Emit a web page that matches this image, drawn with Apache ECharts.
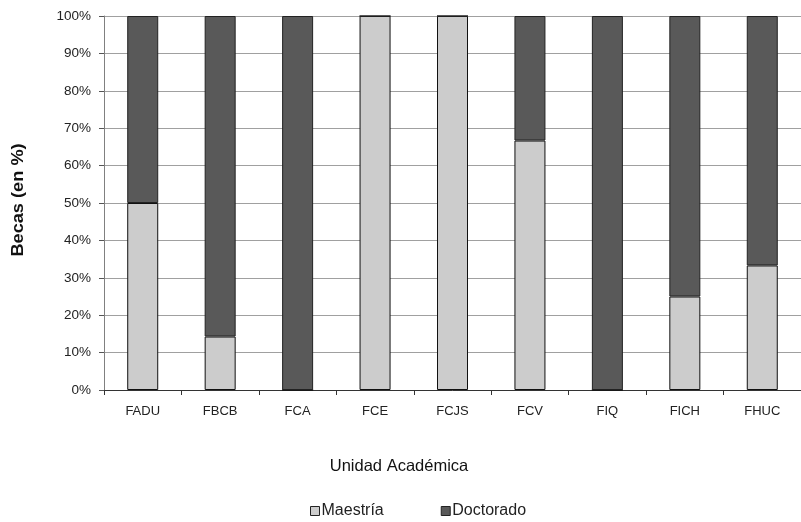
<!DOCTYPE html>
<html><head><meta charset="utf-8">
<script src="https://cdn.jsdelivr.net/npm/echarts@6/dist/echarts.min.js"></script>
<style>html,body{margin:0;padding:0;background:#fff}#c{width:801px;height:522px}</style>
</head><body><div id="c"></div>
<script>
const categories = ['FADU','FBCB','FCA','FCE','FCJS','FCV','FIQ','FICH','FHUC'];
const maestria = [50, 14.3, 0, 100, 100, 66.7, 0, 25, 33.3];
const doctorado = [50, 85.7, 100, 0, 0, 33.3, 100, 75, 66.7];
const yTicks = [0,10,20,30,40,50,60,70,80,90,100];
const font = 'Liberation Sans, Arial, sans-serif';
const chart = echarts.init(document.getElementById('c'));
chart.setOption({
  animation: false,
  backgroundColor: '#fff',
  textStyle: {fontFamily: font},
  grid: {left: 104, right: -9, top: 16, bottom: 132, containLabel: false},
  legend: {
    bottom: -2, left: 305, itemGap: 57, itemWidth: 9, itemHeight: 9,
    icon: 'rect',
    textStyle: {fontFamily: font, fontSize: 16, color: '#222', padding: [0,0,0,-3]},
    data: [
      {name: 'Maestría', itemStyle: {color: '#CCCCCC', borderColor: '#222', borderWidth: 1}},
      {name: 'Doctorado', itemStyle: {color: '#595959', borderColor: '#222', borderWidth: 1}}
    ]
  },
  graphic: [
    {type: 'text', x: 399, y: 466, style: {text: 'Unidad Académica', font: '16.5px ' + font, fill: '#111', textAlign: 'center', textVerticalAlign: 'middle'}},
    {type: 'text', rotation: Math.PI/2, x: 18, y: 200, scaleX: 1.07, style: {text: 'Becas (en %)', font: 'bold 17px ' + font, fill: '#111', textAlign: 'center', textVerticalAlign: 'middle'}}
  ],
  xAxis: {
    type: 'category', data: categories,
    axisLine: {lineStyle: {color: '#333'}},
    axisTick: {show: true, length: 5, lineStyle: {color: '#333'}},
    axisLabel: {fontFamily: font, fontSize: 13, color: '#222', margin: 15}
  },
  yAxis: {
    type: 'value', min: 0, max: 100, interval: 10,
    axisLine: {show: true, lineStyle: {color: '#808080'}},
    axisTick: {show: true, length: 5, lineStyle: {color: '#555'}},
    axisLabel: {fontFamily: font, fontSize: 13.5, color: '#222', margin: 13, formatter: v => yTicks.includes(v) ? v + '%' : ''},
    splitLine: {lineStyle: {color: '#A0A0A0', width: 1}}
  },
  series: [
    {name: 'Maestría', type: 'bar', stack: 's', data: maestria, barWidth: 31,
     itemStyle: {color: '#CCCCCC', borderColor: '#111', borderWidth: 1}},
    {name: 'Doctorado', type: 'bar', stack: 's', data: doctorado, barWidth: 31,
     itemStyle: {color: '#595959', borderColor: '#222', borderWidth: 1}}
  ]
});
</script></body></html>
